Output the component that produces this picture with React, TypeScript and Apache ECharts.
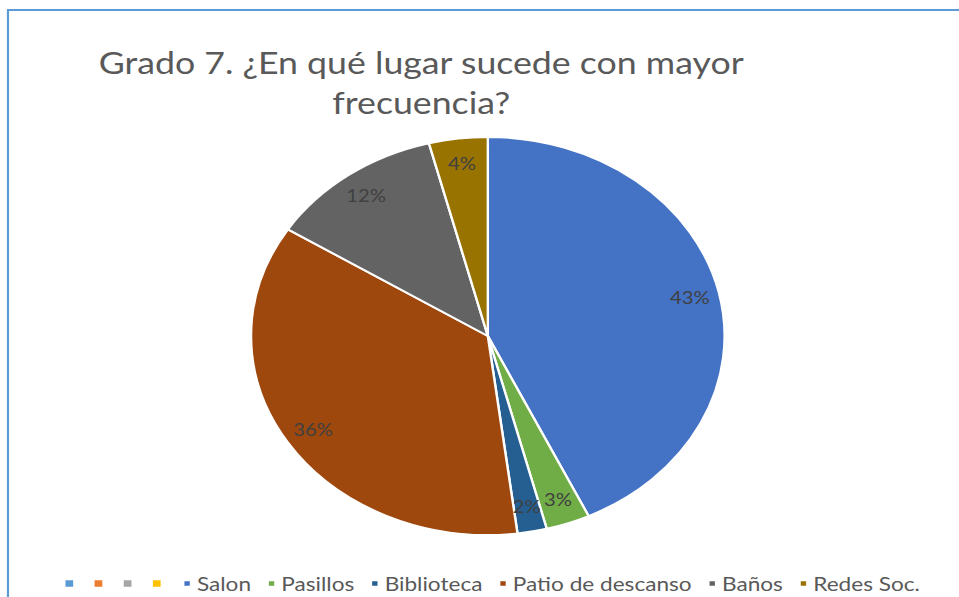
import React, { useEffect, useRef } from 'react';
import * as echarts from 'echarts';

const TITLE_LINES = ['Grado 7. ¿En qué lugar sucede con mayor', 'frecuencia?'];
const BLANK_NAMES = ['\u200B', '\u200B\u200B', '\u200B\u200B\u200B', '\u200B\u200B\u200B\u200B'];
const BLANK_COLORS = ['#5b9bd5', '#ed7d31', '#a5a5a5', '#ffc000'];
const CATEGORIES = ['Salon', 'Pasillos', 'Biblioteca', 'Patio de descanso', 'Baños', 'Redes Soc.'];
const VALUES = [43, 3, 2, 36, 12, 4];
const COLORS = ['#4472c4', '#70ad47', '#255e91', '#9e480e', '#636363', '#997300'];

const FULL_W = 959;
const BASE_W = 806;
const H = 597;
const SX = FULL_W / BASE_W;
const FONT = 'Lato, "Open Sans", sans-serif';

export default function App() {
  const ref = useRef<HTMLDivElement>(null);
  useEffect(() => {
    if (!ref.current) return;
    const chart = echarts.init(ref.current, null, { renderer: 'svg' });
    const blankItems = BLANK_NAMES.map((n, i) => ({
      name: n,
      value: 0,
      itemStyle: { color: BLANK_COLORS[i], borderWidth: 0 },
      label: { show: false },
    }));
    const mainItems = CATEGORIES.map((n, i) => ({
      name: n,
      value: VALUES[i],
      itemStyle: { color: COLORS[i] },
    }));
    const labelItems = CATEGORIES.map((n, i) => ({
      name: n,
      value: VALUES[i],
      itemStyle: { color: 'rgba(0,0,0,0)', borderWidth: 0 },
    }));
    const legendData = [
      ...BLANK_NAMES.map((n, i) => ({ name: n, itemStyle: { color: BLANK_COLORS[i] } })),
      ...CATEGORIES.map((n, i) => ({ name: n, itemStyle: { color: COLORS[i] } })),
    ];
    chart.setOption({
      animation: false,
      backgroundColor: '#ffffff',
      graphic: [
        {
          type: 'rect',
          shape: { x: 6.7, y: 10, width: 1000, height: 1000 },
          style: { fill: 'none', stroke: '#5b9bd5', lineWidth: 1.8 },
          silent: true,
        },
        {
          type: 'text',
          x: 354,
          y: 42,
          style: {
            text: TITLE_LINES.join('\n'),
            align: 'center',
            verticalAlign: 'top',
            fill: '#595959',
            font: `30px ${FONT}`,
            lineHeight: 40,
          },
          silent: true,
        },
      ],
      legend: {
        data: legendData,
        left: 50,
        top: 569,
        icon: 'rect',
        itemWidth: 6.5,
        itemHeight: 6.5,
        itemGap: 13,
        selectedMode: false,
        textStyle: { color: '#595959', fontSize: 19, fontFamily: FONT },
      },
      series: [
        {
          type: 'pie',
          center: [410, 336],
          radius: 199,
          startAngle: 90,
          clockwise: true,
          silent: true,
          stillShowZeroSum: true,
          itemStyle: { borderColor: '#ffffff', borderWidth: 2 },
          label: { show: false },
          labelLine: { show: false },
          data: [...blankItems, ...mainItems],
        },
        {
          type: 'pie',
          center: [410, 336],
          radius: [143, 199],
          startAngle: 90,
          clockwise: true,
          silent: true,
          label: {
            show: true,
            position: 'inside',
            formatter: (p: any) => `${Math.round(p.percent)}%`,
            color: '#404040',
            fontSize: 17,
            fontFamily: FONT,
          },
          labelLine: { show: false },
          data: labelItems,
        },
      ],
    });
    return () => chart.dispose();
  }, []);
  return (
    <div style={{ position: 'fixed', left: 0, top: 0, width: FULL_W, height: H, overflow: 'hidden', background: '#fff' }}>
      <div
        ref={ref}
        style={{ width: BASE_W, height: H, transform: `scaleX(${SX})`, transformOrigin: '0 0' }}
      />
    </div>
  );
}
